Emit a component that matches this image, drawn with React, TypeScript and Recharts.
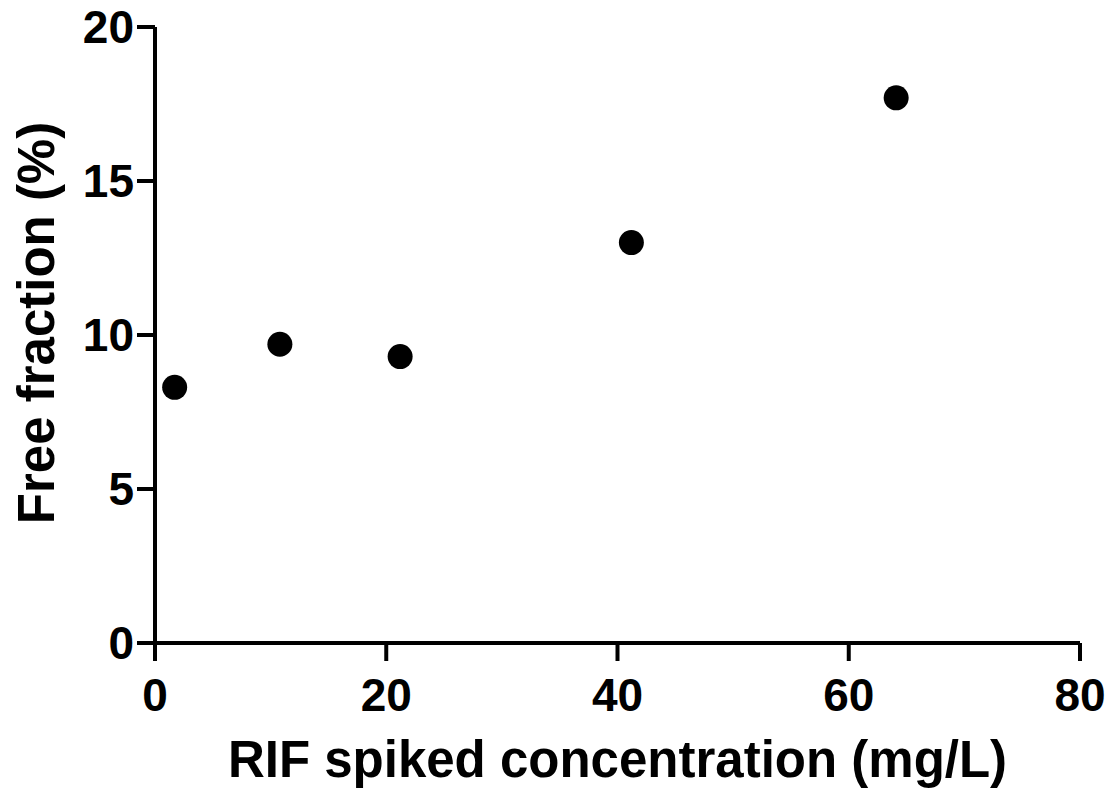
import { ScatterChart, Scatter, XAxis, YAxis, Label } from 'recharts';

const concentration = [1.7, 10.8, 21.2, 41.2, 64.1];
const freeFraction = [8.3, 9.7, 9.3, 13.0, 17.7];
const xTicks = [0, 20, 40, 60, 80];
const yTicks = [0, 5, 10, 15, 20];

const points = concentration.map((x, i) => ({ x, y: freeFraction[i] }));

const FONT = '"Liberation Sans", Arial, sans-serif';
const tickStyle = { fill: '#000', fontSize: 46, fontWeight: 'bold', fontFamily: FONT };

export default function App() {
  return (
    <div style={{ position: 'absolute', left: 0, top: 0, background: '#fff' }}>
      <ScatterChart width={1111} height={789} margin={{ top: 27, right: 31, left: 0, bottom: 0 }}>
        <XAxis
          type="number"
          dataKey="x"
          domain={[0, 80]}
          ticks={xTicks}
          height={146}
          tickSize={18}
          tickMargin={17}
          axisLine={{ stroke: '#000', strokeWidth: 4 }}
          tickLine={{ stroke: '#000', strokeWidth: 4 }}
          tick={tickStyle}
          interval={0}
        >
          <Label
            content={({ viewBox }: any) => (
              <text
                x={viewBox.x + viewBox.width / 2}
                y={viewBox.y + 134}
                textAnchor="middle"
                fontFamily={FONT}
                fontWeight="bold"
                fontSize={51}
                fill="#000"
              >
                RIF spiked concentration (mg/L)
              </text>
            )}
          />
        </XAxis>
        <YAxis
          type="number"
          dataKey="y"
          domain={[0, 20]}
          ticks={yTicks}
          width={155}
          tickSize={18}
          tickMargin={3}
          axisLine={{ stroke: '#000', strokeWidth: 4 }}
          tickLine={{ stroke: '#000', strokeWidth: 4 }}
          tick={tickStyle}
          interval={0}
        >
          <Label
            content={({ viewBox }: any) => {
              const cx = 54;
              const cy = viewBox.y + viewBox.height / 2 - 12;
              return (
                <text
                  x={cx}
                  y={cy}
                  transform={`rotate(-90, ${cx}, ${cy})`}
                  textAnchor="middle"
                  fontFamily={FONT}
                  fontWeight="bold"
                  fontSize={51}
                  fill="#000"
                >
                  Free fraction (%)
                </text>
              );
            }}
          />
        </YAxis>
        <Scatter
          data={points}
          isAnimationActive={false}
          shape={(p: any) => <circle cx={p.cx} cy={p.cy} r={12.5} fill="#000" />}
        />
      </ScatterChart>
    </div>
  );
}
